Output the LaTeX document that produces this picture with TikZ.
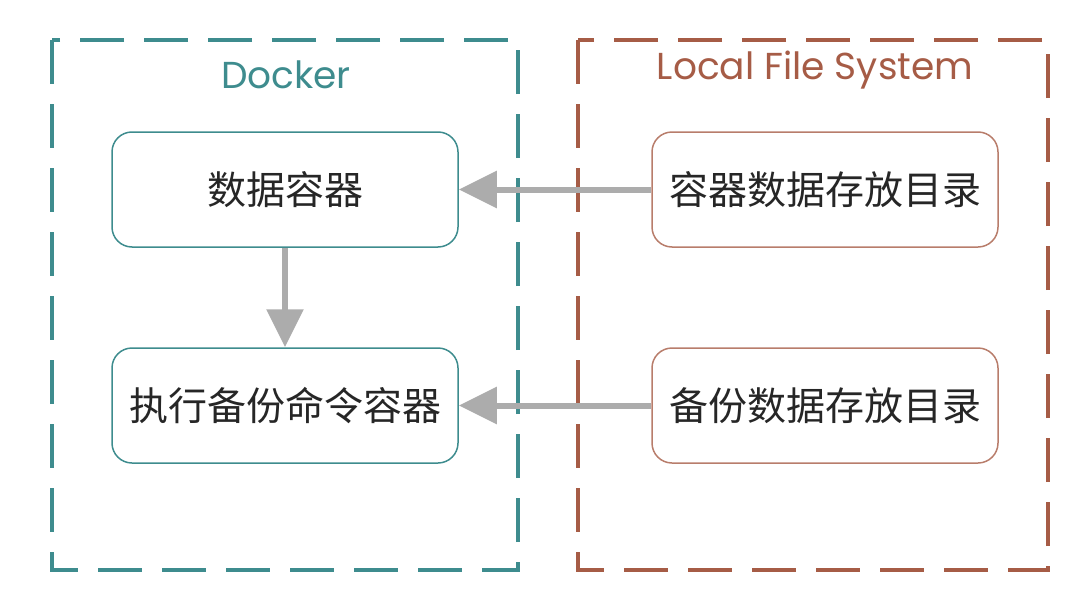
\documentclass[tikz,border=0pt]{standalone}
\usepackage{fontspec}
\setmainfont{Poppins}
\newfontfamily\cjk{Noto Sans CJK SC}
\usetikzlibrary{arrows.meta}
\definecolor{teal1}{RGB}{62,140,142}
\definecolor{brown1}{RGB}{166,92,70}
\definecolor{arr}{RGB}{172,172,172}
\tikzset{
  frame/.style={line width=4pt, dash pattern=on 44pt off 20pt},
  cbox/.style={draw=teal1, line width=1.5pt, rounded corners=20pt, minimum width=346pt, minimum height=115pt, font=\cjk\fontsize{39}{46}\selectfont, text=black!85},
  lbox/.style={draw=brown1!80, line width=1.5pt, rounded corners=20pt, minimum width=346pt, minimum height=115pt, font=\cjk\fontsize{39}{46}\selectfont, text=black!85},
  conn/.style={draw=arr, line width=6pt, -{Triangle[length=38pt,width=36pt]}},
  ttl/.style={font=\fontsize{37.5}{44}\selectfont}
}
\begin{document}
\begin{tikzpicture}[x=1pt,y=-1pt]
\useasboundingbox (0,0) rectangle (1078,610);
\draw[frame, teal1] (52,40) rectangle (518,570);
\draw[frame, brown1] (578,40) rectangle (1048,570);
\node[ttl, text=teal1] (t1) at (286,75) {Docker};
\node[ttl, text=brown1] (t2) at (815,70) {Local File System};
\node[cbox] (a) at (285,189.5) {数据容器};
\node[cbox] (b) at (285,405.5) {执行备份命令容器};
\node[lbox] (c) at (825,189.5) {容器数据存放目录};
\node[lbox] (d) at (825,405.5) {备份数据存放目录};
\draw[conn] (c.west) -- (a.east);
\draw[conn] (d.west) -- (b.east);
\draw[conn] (a.south) -- (b.north);
\end{tikzpicture}
\end{document}
